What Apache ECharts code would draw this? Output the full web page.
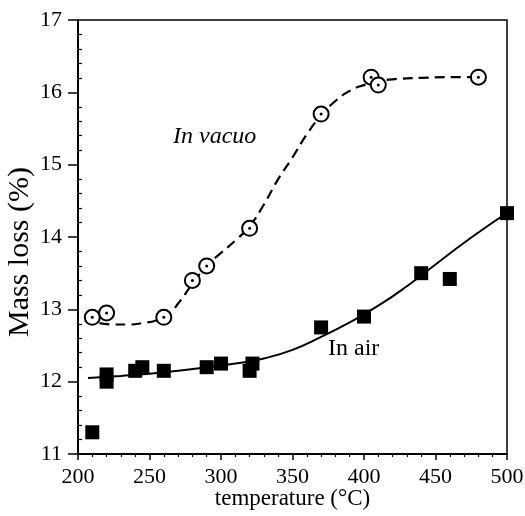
<!DOCTYPE html>
<html><head><meta charset="utf-8">
<script src="https://cdn.jsdelivr.net/npm/echarts@6/dist/echarts.min.js"></script>
<style>html,body{margin:0;padding:0;background:#fff}#c{width:525px;height:516px}</style>
</head><body><div id="c"></div>
<script>
// In vacuo measured points [temperature, mass loss]
const vacuoTemps = [210, 220, 260, 280, 290, 320, 370, 405, 410, 480];
const vacuoLoss  = [12.89, 12.95, 12.89, 13.4, 13.6, 14.12, 15.7, 16.21, 16.1, 16.21];
// In vacuo fitted (dashed) curve
const vacuoFitT = [215, 225, 235, 245, 255, 265, 270, 280, 290, 300, 310, 320, 330, 340, 350, 360, 370, 380, 390, 400, 410, 420, 440, 460, 480];
const vacuoFitY = [12.81, 12.79, 12.79, 12.81, 12.85, 12.97, 13.08, 13.35, 13.6, 13.78, 13.95, 14.15, 14.45, 14.8, 15.1, 15.42, 15.68, 15.88, 16.02, 16.1, 16.15, 16.18, 16.2, 16.21, 16.21];
// In air measured points
const airTemps = [210, 220, 220, 240, 245, 260, 290, 300, 320, 322, 370, 400, 440, 460, 500];
const airLoss  = [11.3, 12.1, 12.0, 12.15, 12.2, 12.15, 12.2, 12.25, 12.15, 12.25, 12.75, 12.9, 13.5, 13.42, 14.33];
// In air fitted (solid) curve
const airFitT = [207, 230, 250, 270, 290, 310, 330, 350, 370, 390, 410, 430, 450, 470, 490, 500];
const airFitY = [12.05, 12.08, 12.11, 12.15, 12.2, 12.25, 12.32, 12.44, 12.62, 12.82, 13.05, 13.32, 13.62, 13.92, 14.2, 14.33];

const zip = (a, b) => a.map((v, i) => [v, b[i]]);
const FONT = '"Liberation Serif", "DejaVu Serif", serif';

const chart = echarts.init(document.getElementById('c'), null, {renderer: 'canvas'});
const axisCommon = {
  axisLine: {show: true, lineStyle: {color: '#000', width: 1.5}},
  splitLine: {show: false}
};
chart.setOption({
  backgroundColor: '#fff',
  animation: false,
  grid: {left: 78, right: 18, top: 20, bottom: 62, containLabel: false, outerBoundsMode: 'none',
         show: true, borderColor: '#000', borderWidth: 1.5, backgroundColor: 'transparent'},
  xAxis: [
    Object.assign({
      type: 'value', min: 200, max: 500, interval: 50, position: 'bottom',
      name: 'temperature (°C)', nameLocation: 'middle', nameGap: 33, nameMoveOverlap: false,
      nameTextStyle: {fontFamily: FONT, fontSize: 23, color: '#000'},
      axisLabel: {fontFamily: FONT, fontSize: 22, color: '#000', margin: 12},
      axisTick: {show: true, inside: false, length: 6, lineStyle: {color: '#000', width: 1.5}},
      minorTick: {show: false}
    }, axisCommon),
    Object.assign({
      type: 'value', min: 200, max: 500, interval: 50, position: 'bottom',
      axisLabel: {show: false},
      axisTick: {show: false, inside: false},
      minorTick: {show: true, splitNumber: 5, length: 3, lineStyle: {color: '#000', width: 1.2}}
    }, axisCommon)
  ],
  yAxis: [
    Object.assign({
      type: 'value', min: 11, max: 17, interval: 1, position: 'left',
      name: 'Mass loss (%)', nameLocation: 'middle', nameGap: 43, nameMoveOverlap: false,
      nameTextStyle: {fontFamily: FONT, fontSize: 30, color: '#000', padding: [0, 30, 0, 0]},
      axisLabel: {fontFamily: FONT, fontSize: 22, color: '#000', margin: 16},
      axisTick: {show: true, inside: false, length: 10, lineStyle: {color: '#000', width: 1.5}},
      minorTick: {show: false}
    }, axisCommon),
    Object.assign({
      type: 'value', min: 11, max: 17, interval: 1, position: 'left',
      axisLabel: {show: false},
      axisTick: {show: false, inside: true},
      minorTick: {show: true, splitNumber: 5, length: 4, lineStyle: {color: '#000', width: 1.2}}
    }, axisCommon)
  ],
  series: [
    {
      type: 'line', smooth: true, showSymbol: false, symbol: 'none',
      data: zip(vacuoFitT, vacuoFitY),
      lineStyle: {color: '#000', width: 2.2, type: [10, 6]}, z: 2
    },
    {
      type: 'line', smooth: true, showSymbol: false, symbol: 'none',
      data: zip(airFitT, airFitY),
      lineStyle: {color: '#000', width: 2}, z: 2
    },
    {
      type: 'scatter', data: zip(vacuoTemps, vacuoLoss), symbol: 'circle', symbolSize: 15,
      itemStyle: {color: '#fff', borderColor: '#000', borderWidth: 2, opacity: 1}, z: 3
    },
    {
      type: 'scatter', data: zip(vacuoTemps, vacuoLoss), symbol: 'circle', symbolSize: 3,
      itemStyle: {color: '#000', opacity: 1}, z: 4
    },
    {
      type: 'scatter', data: zip(airTemps, airLoss), symbol: 'rect', symbolSize: 14,
      itemStyle: {color: '#000', opacity: 1}, z: 3
    }
  ],
  graphic: [
    {type: 'text', left: 173, top: 125, style: {text: 'In vacuo', font: 'italic 24px ' + FONT, fill: '#000'}},
    {type: 'text', left: 328, top: 337, style: {text: 'In air', font: '24px ' + FONT, fill: '#000'}}
  ]
});
</script></body></html>
